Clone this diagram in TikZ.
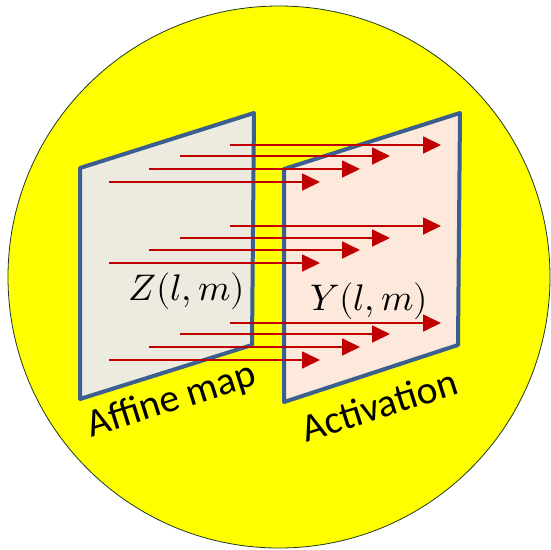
\documentclass[tikz,border=0pt]{standalone}
\usepackage{fontspec}
\usepackage{unicode-math}
\setmainfont{Carlito}
\setmathfont{Latin Modern Math}
\usetikzlibrary{arrows.meta}
\definecolor{panelblue}{HTML}{3B5F8E}
\definecolor{leftfill}{HTML}{EDEBE0}
\definecolor{rightfill}{HTML}{FDE9DB}
\definecolor{arrred}{HTML}{C00000}
\definecolor{rimcol}{HTML}{1E3A1E}
\definecolor{bgyellow}{HTML}{FFFF00}
\tikzset{
  panel/.style={draw=panelblue, line width=4pt, line join=round},
  flow/.style={draw=arrred, line width=1.8pt, -{Triangle[length=18pt,width=17pt]}},
  lbl/.style={font=\fontsize{39.5}{41}\selectfont, rotate=17.6, inner sep=0pt},
  mathlbl/.style={font=\fontsize{37}{39}\selectfont, inner sep=0pt}
}
\begin{document}
\begin{tikzpicture}[x=1pt,y=-1pt]
\useasboundingbox (0,0) rectangle (550,550);
\fill[bgyellow] (279,277) circle (271);
\draw[rimcol, line width=0.8pt] (279,277) circle (271);
% panels
\coordinate (L1) at (80,168); \coordinate (L2) at (254,113);
\coordinate (L3) at (252,345); \coordinate (L4) at (80,399);
\coordinate (R1) at (284,169); \coordinate (R2) at (460,113);
\coordinate (R3) at (458,345); \coordinate (R4) at (284,402);
\path[panel, fill=leftfill] (L1) -- (L2) -- (L3) -- (L4) -- cycle;
\path[panel, fill=rightfill] (R1) -- (R2) -- (R3) -- (R4) -- cycle;
% labels
\node[mathlbl] (zlab) at (187,291) {$Z(l,m)$};
\node[mathlbl] (ylab) at (369,301) {$Y(l,m)$};
\node[lbl] (affine) at (172,401) {Affine map};
\node[lbl] (activ) at (379,405) {Activation};
% arrows
\foreach \g/\ya/\yb/\yc/\yd in {1/145/156/169/182, 2/226/238/250/263, 3/323/334/347/360}{
  \coordinate (s\g a) at (230,\ya); \coordinate (e\g a) at (441,\ya);
  \coordinate (s\g b) at (180,\yb); \coordinate (e\g b) at (390,\yb);
  \coordinate (s\g c) at (149,\yc); \coordinate (e\g c) at (360,\yc);
  \coordinate (s\g d) at (109,\yd); \coordinate (e\g d) at (320,\yd);
  \draw[flow] (s\g a) -- (e\g a);
  \draw[flow] (s\g b) -- (e\g b);
  \draw[flow] (s\g c) -- (e\g c);
  \draw[flow] (s\g d) -- (e\g d);
}
\end{tikzpicture}
\end{document}
